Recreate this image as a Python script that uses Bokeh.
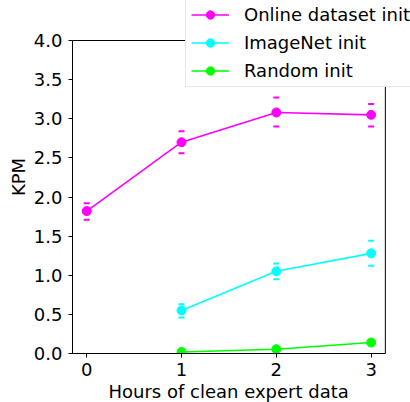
from bokeh.plotting import figure
from bokeh.models import Range1d, FixedTicker, NumeralTickFormatter, Legend, LegendItem, BoxAnnotation, Title
from bokeh.embed import file_html
from bokeh.resources import INLINE

# Data
hours_online = [0, 1, 2, 3]
kpm_online = [1.82, 2.70, 3.08, 3.05]
kpm_online_hi = [1.92, 2.84, 3.27, 3.19]
kpm_online_lo = [1.71, 2.56, 2.90, 2.90]

hours_imagenet = [1, 2, 3]
kpm_imagenet = [0.55, 1.05, 1.28]
kpm_imagenet_hi = [0.63, 1.15, 1.44]
kpm_imagenet_lo = [0.46, 0.95, 1.12]

hours_random = [1, 2, 3]
kpm_random = [0.02, 0.055, 0.14]

series_names = ["Online dataset init", "ImageNet init", "Random init"]
series_colors = ["#ff00ff", "#00ffff", "#00ff00"]
x_ticks = [0, 1, 2, 3]
y_ticks = [0.0, 0.5, 1.0, 1.5, 2.0, 2.5, 3.0, 3.5, 4.0]
x_label = "Hours of clean expert data"
y_label = "KPM"

# axes box: x from -0.15 to 3.15, y from 0 to 4
X0, X1 = -0.15, 3.15
Y0, Y1 = 0.0, 4.0

FONT = "DejaVu Sans"

# frame extends above/right of the axes box so that the legend can overhang it
p = figure(frame_width=338, frame_height=353, output_backend="svg", toolbar_location=None,
           x_range=Range1d(X0, X1 + 25 / 94.3), y_range=Range1d(Y0, Y1 + 40 / 78.25),
           min_border_left=72, min_border_right=0, min_border_top=0, min_border_bottom=49)
p.xgrid.visible = False
p.ygrid.visible = False
p.outline_line_color = None
p.background_fill_color = "white"
p.border_fill_color = "white"

for ax in (p.xaxis[0], p.yaxis[0]):
    ax.axis_line_color = "black"
    ax.major_tick_line_color = "black"
    ax.major_tick_out = 4
    ax.major_tick_in = 0
    ax.minor_tick_line_color = None
    ax.major_label_text_font = FONT
    ax.major_label_text_font_size = "18px"
    ax.major_label_text_color = "black"
    ax.axis_label_text_font = FONT
    ax.axis_label_text_font_size = "18px"
    ax.axis_label_text_font_style = "normal"
    ax.axis_label_text_color = "black"

p.xaxis.bounds = (X0, X1)
p.yaxis.bounds = (Y0, Y1)
p.xaxis.ticker = FixedTicker(ticks=x_ticks)
p.yaxis.ticker = FixedTicker(ticks=y_ticks)
p.yaxis.formatter = NumeralTickFormatter(format="0.0")
p.yaxis.axis_label = y_label
p.yaxis.axis_label_standoff = 2
p.xaxis.major_label_standoff = 5
p.yaxis.major_label_standoff = 6

# x-axis label centred under the axes box (not the wider frame)
xt = Title(text=x_label, align="left", offset=36, text_font=FONT, text_font_size="18px",
           text_font_style="normal", text_color="black", standoff=0)
p.add_layout(xt, "below")

box = BoxAnnotation(left=X0, right=X1, bottom=Y0, top=Y1, fill_color=None,
                    line_color="black", line_width=1, line_alpha=1)
p.add_layout(box)

items = []
data = [
    (hours_online, kpm_online, kpm_online_lo, kpm_online_hi),
    (hours_imagenet, kpm_imagenet, kpm_imagenet_lo, kpm_imagenet_hi),
    (hours_random, kpm_random, None, None),
]
for (xs, ys, lo, hi), name, col in zip(data, series_names, series_colors):
    ln = p.line(xs, ys, line_color=col, line_width=1.6)
    sc = p.scatter(xs, ys, size=9, fill_color=col, line_color=col, marker="circle")
    if lo is not None:
        p.rect(xs, lo, width=6, height=2, width_units="screen", height_units="screen",
               fill_color=col, line_color=None)
        p.rect(xs, hi, width=6, height=2, width_units="screen", height_units="screen",
               fill_color=col, line_color=None)
    items.append(LegendItem(label=name, renderers=[ln, sc]))

legend = Legend(items=items, location=(113, 266))
legend.label_text_font = FONT
legend.label_text_font_size = "18px"
legend.label_text_color = "black"
legend.glyph_width = 38
legend.glyph_height = 21
legend.label_height = 21
legend.spacing = 7
legend.padding = 5
legend.margin = 0
legend.label_standoff = 15
legend.border_line_color = "#cccccc"
legend.border_line_width = 1
legend.background_fill_color = "white"
legend.background_fill_alpha = 1.0
p.add_layout(legend, "center")

open("out.html", "w").write(file_html(p, INLINE))
